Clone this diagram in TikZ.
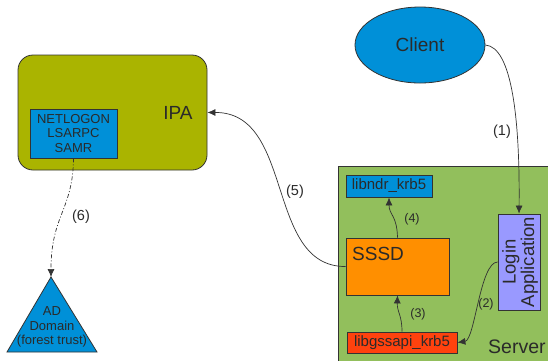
\documentclass[tikz,border=0pt]{standalone}
\usepackage{fontspec}
\setmainfont{Liberation Sans}
\usetikzlibrary{arrows.meta,shapes.geometric}
\definecolor{txt}{HTML}{2A2A2A}
\definecolor{edge}{HTML}{333333}
\definecolor{ipacol}{HTML}{AAB400}
\definecolor{srvcol}{HTML}{92BF5C}
\definecolor{bluecol}{HTML}{0090D8}
\definecolor{orgcol}{HTML}{FF8F00}
\definecolor{redcol}{HTML}{FF420E}
\definecolor{lavcol}{HTML}{9999FF}
\tikzset{
  box/.style={draw=edge, line width=0.8pt, inner sep=0pt, text=txt, align=center},
  conn/.style={draw=black!80, line width=0.7pt, -{Latex[length=8pt,width=7pt]}},
  lbl/.style={text=txt, font=\fontsize{14.5}{16}\selectfont, inner sep=0pt},
  slbl/.style={text=txt, font=\fontsize{12.5}{14}\selectfont, inner sep=0pt},
}
\begin{document}
\begin{tikzpicture}[x=1pt,y=-1pt]
\useasboundingbox (0,0) rectangle (548,360);
\clip (0,0) rectangle (548,360);
\fill[white] (0,0) rectangle (548,360);
% server
\draw[draw=edge, line width=0.8pt, fill=srvcol] (338,166) rectangle (570,380);
\node[anchor=west, text=txt, font=\fontsize{19.5}{22}\selectfont, inner sep=0pt] (srvlbl) at (488,347) {Server};
% IPA
\node[box, fill=ipacol, rounded corners=15pt, minimum width=189pt, minimum height=115pt] (ipa) at (112.5,112.5) {};
\node[text=txt, font=\fontsize{19}{22}\selectfont, inner sep=0pt] (ipalbl) at (178,113) {IPA};
\node[box, fill=bluecol, minimum width=87pt, minimum height=49pt, font=\fontsize{13}{14.7}\selectfont] (netlogon) at (73.5,133.5) {NETLOGON\\LSARPC\\SAMR};
% client
\node[box, ellipse, fill=bluecol, minimum width=130pt, minimum height=76pt, font=\fontsize{19}{22}\selectfont] (client) at (420,45) {Client};
% server internals
\node[box, fill=bluecol, minimum width=86pt, minimum height=22pt, font=\fontsize{15}{17}\selectfont] (libndr) at (389,186) {libndr\_krb5};
\node[box, fill=orgcol, minimum width=103pt, minimum height=57pt] (sssd) at (397.5,266.5) {};
\node[anchor=west, text=txt, font=\fontsize{19}{22}\selectfont, inner sep=0pt] (sssdlbl) at (352,254) {SSSD};
\node[box, fill=redcol, minimum width=110pt, minimum height=21pt, font=\fontsize{15}{17}\selectfont] (libgss) at (402,342.5) {libgssapi\_krb5};
\node[box, fill=lavcol, minimum width=42pt, minimum height=96pt] (login) at (519,262) {};
\node[rotate=90, text=txt, align=center, inner sep=0pt, font=\fontsize{18.5}{18.5}\selectfont] (loginlbl) at (520,262) {Login\\Application};
% AD triangle
\coordinate (adtop) at (51,277);
\draw[draw=edge, line width=0.8pt, fill=bluecol] (adtop) -- (97,352) -- (7,352) -- cycle;
\node[text=txt, align=center, inner sep=0pt, font=\fontsize{13}{14.5}\selectfont] (adlbl) at (52,327) {AD\\Domain\\(forest trust)};
% connectors
\draw[conn] (client.east) .. controls (512,47) and (520,120) .. (login.north);
\node[lbl] (l1) at (502,132) {(1)};
\draw[conn] (login.west) .. controls (480,262) and (475,340) .. (libgss.east);
\node[slbl] (l2) at (486,304) {(2)};
\draw[conn] (libgss.north) .. controls (402,315) and (397,312) .. (sssd.south);
\node[slbl] (l3) at (418,314) {(3)};
\draw[conn] (sssd.north) .. controls (397,215) and (389,215) .. (libndr.south);
\node[slbl] (l4) at (412,219) {(4)};
\draw[conn] (sssd.west) .. controls (265,267) and (295,112) .. (ipa.east);
\node[lbl] (l5) at (295,192) {(5)};
\draw[conn, dash pattern=on 4pt off 2pt on 1pt off 2pt] (netlogon.south) .. controls (73,210) and (51,215) .. (adtop);
\node[lbl] (l6) at (81,217) {(6)};
\end{tikzpicture}
\end{document}
